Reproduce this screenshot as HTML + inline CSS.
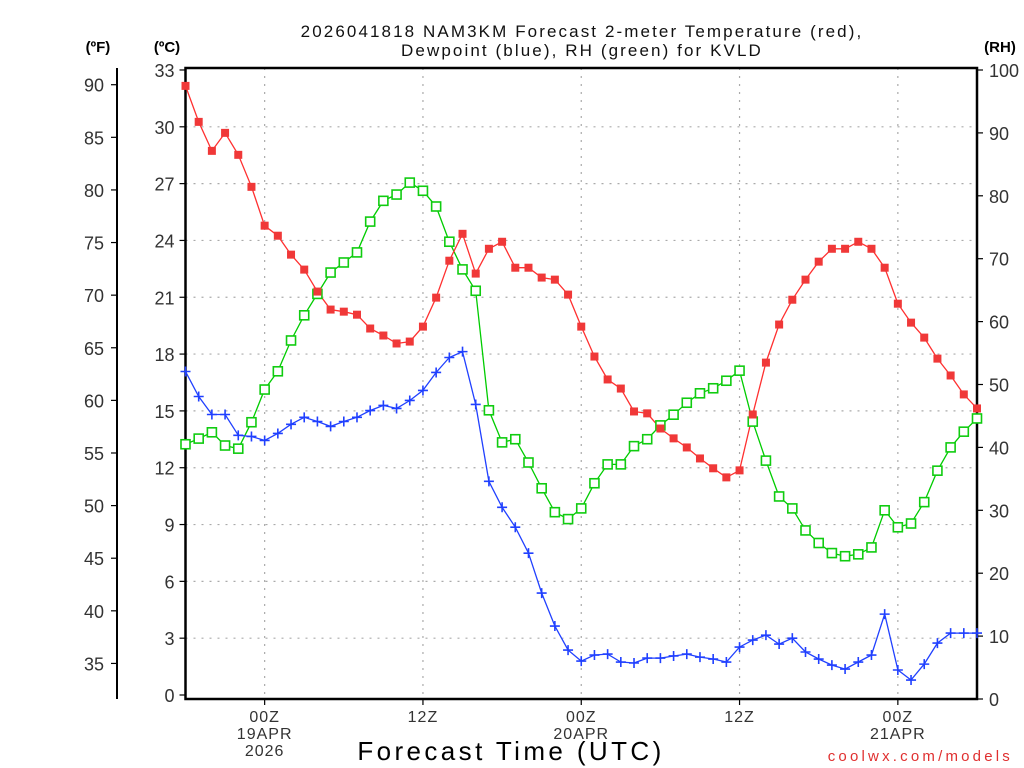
<!DOCTYPE html>
<html><head><meta charset="utf-8"><style>
html,body{margin:0;padding:0;background:#fff;}
svg{display:block;font-family:"Liberation Sans",sans-serif;}
</style></head><body>
<svg id="chart" width="1024" height="768" viewBox="0 0 1024 768" xmlns="http://www.w3.org/2000/svg">
<g id="grid"></g>
<g id="axes"></g>
<g id="series"></g>
<text x="582" y="37" font-size="17" text-anchor="middle" letter-spacing="2.1" fill="#111">2026041818 NAM3KM Forecast 2-meter Temperature (red),</text>
<text x="582" y="56" font-size="17" text-anchor="middle" letter-spacing="2.1" fill="#111">Dewpoint (blue), RH (green) for KVLD</text>
<text x="98" y="52" font-size="15" font-weight="bold" text-anchor="middle">(ºF)</text>
<text x="167" y="52" font-size="15" font-weight="bold" text-anchor="middle">(ºC)</text>
<text x="1000" y="52" font-size="15" font-weight="bold" text-anchor="middle">(RH)</text>
<text x="511" y="760" font-size="26" text-anchor="middle" letter-spacing="3.4">Forecast Time (UTC)</text>
<text x="1013" y="761" font-size="15" fill="#e03030" text-anchor="end" letter-spacing="3.2">coolwx.com/models</text>
</svg>
<script>
const temps = [32.16,30.26,28.73,29.68,28.52,26.83,24.78,24.25,23.25,22.46,21.30,20.35,20.24,20.08,19.35,18.98,18.56,18.66,19.45,20.98,22.93,24.35,22.25,23.56,23.93,22.56,22.56,22.04,21.93,21.14,19.45,17.87,16.66,16.18,14.97,14.87,14.07,13.55,13.07,12.49,11.97,11.49,11.86,14.81,17.55,19.56,20.87,21.93,22.88,23.56,23.56,23.93,23.56,22.56,20.66,19.66,18.87,17.76,16.87,15.87,15.13];
const dewpoints = [17.08,15.76,14.81,14.81,13.71,13.65,13.44,13.81,14.29,14.66,14.44,14.18,14.44,14.66,15.02,15.29,15.13,15.55,16.08,17.03,17.82,18.13,15.34,11.28,9.91,8.86,7.49,5.38,3.64,2.37,1.79,2.11,2.16,1.74,1.69,1.95,1.95,2.06,2.16,2.00,1.90,1.74,2.53,2.90,3.16,2.69,3.00,2.27,1.90,1.58,1.37,1.74,2.11,4.27,1.32,0.79,1.63,2.74,3.27,3.27,3.27];
const rhValues = [40.5,41.4,42.4,40.3,39.8,44.0,49.2,52.1,57.0,61.0,64.4,67.8,69.4,71.0,75.9,79.2,80.2,82.1,80.8,78.3,72.7,68.3,64.9,45.9,40.8,41.3,37.6,33.5,29.7,28.6,30.3,34.3,37.3,37.3,40.2,41.3,43.5,45.2,47.1,48.6,49.4,50.6,52.2,44.1,37.9,32.2,30.3,26.8,24.8,23.2,22.7,23.0,24.1,30.0,27.3,27.9,31.3,36.3,40.0,42.5,44.6];
const celsiusTicks = [0,3,6,9,12,15,18,21,24,27,30,33];
const fahrenheitTicks = [35,40,45,50,55,60,65,70,75,80,85,90];
const rhTicks = [0,10,20,30,40,50,60,70,80,90,100];
const timeTickHours = [6,18,30,42,54];
const timeTickLabels = [["00Z","19APR","2026"],["12Z"],["00Z","20APR"],["12Z"],["00Z","21APR"]];
const totalHours = 60;

const L=185.5,R=977,T=68,B=699;
const NS="http://www.w3.org/2000/svg";
const xS=h=>L+(R-L)*h/totalHours;
const yC=c=>695-18.94*c;
const yF=f=>yC((f-32)*5/9);
const yRH=r=>699-6.29*r;
function mk(tag,attrs,parent,text){const e=document.createElementNS(NS,tag);for(const k in attrs)e.setAttribute(k,attrs[k]);if(text!==undefined)e.textContent=text;parent.appendChild(e);return e;}
const grid=document.getElementById('grid'),axes=document.getElementById('axes'),series=document.getElementById('series');

celsiusTicks.forEach(c=>{
  if(c>0&&c<33){const g=mk('line',{x1:L,x2:R,y1:yC(c),y2:yC(c),stroke:'#aaa','stroke-width':1.2,'stroke-dasharray':'2,6'},grid);
  
  }
  const t=mk('line',{x1:L-6,x2:L,y1:yC(c),y2:yC(c),stroke:'#000','stroke-width':1.2},axes);
  
  
  const lb=mk('text',{x:L-11,y:yC(c)+7,'font-size':18,'text-anchor':'end',fill:'#333'},axes,String(c));
  
  
});
timeTickHours.forEach((h,i)=>{
  const g=mk('line',{x1:xS(h),x2:xS(h),y1:T,y2:B,stroke:'#aaa','stroke-width':1.2,'stroke-dasharray':'2,6'},grid);
  
  
  const t=mk('line',{x1:xS(h),x2:xS(h),y1:B,y2:B+6,stroke:'#000','stroke-width':1.2},axes);
  
  
  timeTickLabels[i].forEach((s,j)=>{
    const lb=mk('text',{x:xS(h),y:B+23+j*17,'font-size':16,'text-anchor':'middle',fill:'#333','letter-spacing':1},axes,s);
    
    
  });
});
fahrenheitTicks.forEach(f=>{
  const t=mk('line',{x1:111,x2:117,y1:yF(f),y2:yF(f),stroke:'#000','stroke-width':1.2},axes);
  
  
  const lb=mk('text',{x:104,y:yF(f)+7,'font-size':18,'text-anchor':'end',fill:'#333'},axes,String(f));
  
  
});
rhTicks.forEach(r=>{
  const t=mk('line',{x1:R,x2:R+6,y1:yRH(r),y2:yRH(r),stroke:'#000','stroke-width':1.2},axes);
  
  
  const lb=mk('text',{x:989,y:yRH(r)+7,'font-size':18,'text-anchor':'start',fill:'#333'},axes,String(r));
  
  
});
const fr=mk('rect',{x:L,y:T,width:R-L,height:B-T,fill:'none',stroke:'#000','stroke-width':2.5},axes);


const fa=mk('line',{x1:117,x2:117,y1:T,y2:B,stroke:'#000','stroke-width':2},axes);



function drawLine(vals,yf,color,name){
  const pts=vals.map((v,i)=>xS(i).toFixed(1)+','+yf(v).toFixed(1)).join(' ');
  const p=mk('polyline',{points:pts,fill:'none',stroke:color,'stroke-width':1.3},series);
  
  
}
drawLine(rhValues,yRH,'#00cc00','rh');
drawLine(dewpoints,yC,'#2040ff','dewpoint');
drawLine(temps,yC,'#ff3030','temperature');
rhValues.forEach((v,i)=>{
  const m=mk('rect',{x:xS(i)-4.5,y:yRH(v)-4.5,width:9,height:9,fill:'#fff',stroke:'#10cc10','stroke-width':1.6},series);
  
  
});
dewpoints.forEach((v,i)=>{
  const m=mk('path',{d:`M${xS(i)-5},${yC(v)}h10M${xS(i)},${yC(v)-5}v10`,stroke:'#2040ff','stroke-width':1.6},series);
  
  
});
temps.forEach((v,i)=>{
  const m=mk('rect',{x:xS(i)-4,y:yC(v)-4,width:8,height:8,fill:'#f03838'},series);
  
  
});
</script>
</body></html>
